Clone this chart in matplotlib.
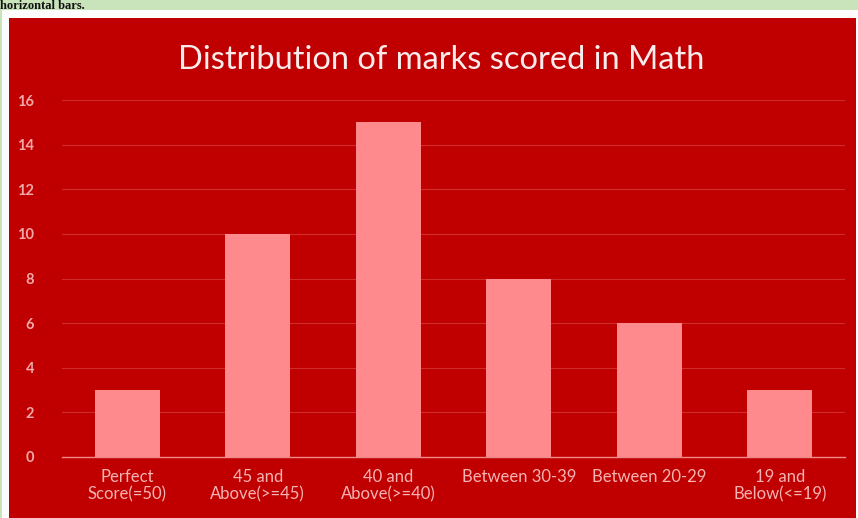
import matplotlib.pyplot as plt
from matplotlib.patches import Rectangle

categories = ['Perfect\nScore(=50)', '45 and\nAbove(>=45)', '40 and\nAbove(>=40)',
              'Between 30-39', 'Between 20-29', '19 and\nBelow(<=19)']
counts = [3, 10, 15, 8, 6, 3]
yticks = [0, 2, 4, 6, 8, 10, 12, 14, 16]

W, H = 858, 518
fig = plt.figure(figsize=(W / 100, H / 100), dpi=100)
fig.patch.set_facecolor('#c9e3bb')

# background: white frame and red panel, in pixel coords
bg = fig.add_axes([0, 0, 1, 1], zorder=-10)
bg.set_xlim(0, W)
bg.set_ylim(H, 0)
bg.axis('off')
bg.add_patch(Rectangle((2, 10), W, H, facecolor='#fdfdfd', edgecolor='none'))
bg.add_patch(Rectangle((9, 18), W - 11, H, facecolor='#c00000', edgecolor='none'))
bg.text(0, 9, 'horizontal bars.', fontsize=9, fontweight='bold',
        family='Liberation Serif', color='#111111', va='baseline', ha='left')

ax = fig.add_axes([62 / W, 1 - 457 / H, (845 - 62) / W, 357 / H], zorder=1)
ax.set_facecolor('none')
x = range(len(categories))
ax.bar(x, counts, width=0.5, color='#ff8a8e', zorder=3)
ax.set_xlim(-0.5, 5.5)
ax.set_ylim(0, 16)
ax.set_yticks(yticks)
ax.set_xticks(list(x))
ax.set_xticklabels(categories, fontsize=12, color='#f7b3b3', family='Lato', linespacing=1.1)
ax.tick_params(axis='y', labelsize=10.5, labelcolor='#f2a8a8', length=0, pad=20)
ax.tick_params(axis='x', length=0, pad=9)
for lab in ax.get_yticklabels():
    lab.set_family('Lato')
    lab.set_fontweight('bold')
ax.grid(axis='y', color='#d02c2c', linewidth=0.8, zorder=0)
for s in ['top', 'right', 'left']:
    ax.spines[s].set_visible(False)
ax.spines['bottom'].set_color('#f08a8a')
ax.spines['bottom'].set_linewidth(1.0)
ax.spines['bottom'].set_zorder(4)

fig.text(441 / W, 1 - 60 / H, 'Distribution of marks scored in Math', fontsize=23.5,
         color='#f8ecec', family='Lato', ha='center', va='center')

fig.savefig('out.png', dpi=100, facecolor=fig.get_facecolor())
